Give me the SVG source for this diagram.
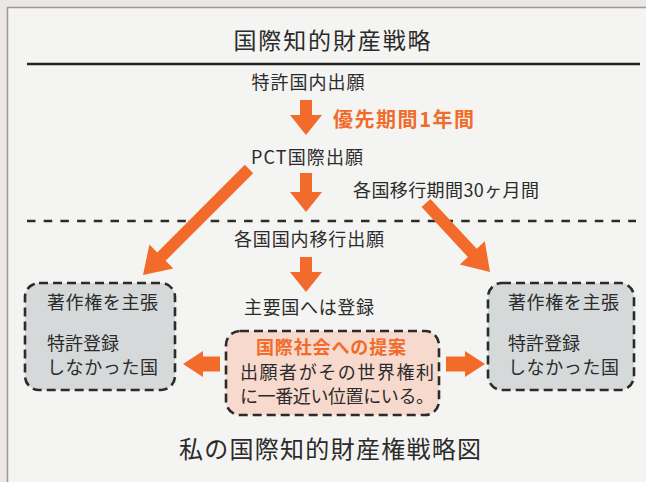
<svg xmlns="http://www.w3.org/2000/svg" width="646" height="482" viewBox="0 0 646 482">
<defs>
<style>
.t{font-family:"Noto Sans CJK JP","Noto Sans",sans-serif;fill:#2b2b2b;font-size:18px}
.big{font-size:23px}
.cap{font-size:24px}
.o{fill:#f26b2b;font-weight:bold}
.o20{font-size:20px}
.arr{fill:#f26b2b}
.box{stroke:#2b2b2b;stroke-width:2.6;stroke-dasharray:9 5}
.gray{fill:#d6d9d9}
.pink{fill:#f7d9cd}
</style>
</defs>
<rect x="0" y="0" width="646" height="482" fill="#ebe7e7"/>
<rect x="7.5" y="7.5" width="700" height="500" fill="#f4f4f2" stroke="#9a9a9a" stroke-width="1.5"/>
<g id="title">
<text class="t big" x="332" y="49" text-anchor="middle" textLength="197" lengthAdjust="spacing">国際知的財産戦略</text>
</g>
<line x1="27" y1="64" x2="640" y2="64" stroke="#222" stroke-width="2.5"/>
<line x1="27" y1="221" x2="636" y2="221" stroke="#2b2b2b" stroke-width="2.5" stroke-dasharray="8.5 8.2"/>
<g id="n1"><text class="t" x="308" y="89" text-anchor="middle" textLength="113" lengthAdjust="spacing">特許国内出願</text></g>
<g id="lbl1"><text class="t o o20" x="333" y="127" textLength="141" lengthAdjust="spacing">優先期間1年間</text></g>
<g id="n2"><text class="t" x="307" y="164" text-anchor="middle" textLength="112" lengthAdjust="spacing">PCT国際出願</text></g>
<g id="lbl2"><text class="t" x="353" y="197" textLength="186" lengthAdjust="spacing">各国移行期間30ヶ月間</text></g>
<g id="n3"><text class="t" x="309" y="246" text-anchor="middle" textLength="150" lengthAdjust="spacing">各国国内移行出願</text></g>
<g id="n4"><text class="t" x="309" y="314" text-anchor="middle" textLength="130" lengthAdjust="spacing">主要国へは登録</text></g>
<g id="leftbox">
<rect class="box gray" x="25" y="283" width="150" height="107" rx="14"/>
<text class="t" x="47" y="309" textLength="111" lengthAdjust="spacing">著作権を主張</text>
<text class="t" x="47" y="350">特許登録</text>
<text class="t" x="47" y="374" textLength="111" lengthAdjust="spacing">しなかった国</text>
</g>
<g id="rightbox">
<rect class="box gray" x="488" y="283" width="146" height="107" rx="14"/>
<text class="t" x="508" y="309" textLength="111" lengthAdjust="spacing">著作権を主張</text>
<text class="t" x="508" y="350">特許登録</text>
<text class="t" x="508" y="374" textLength="111" lengthAdjust="spacing">しなかった国</text>
</g>
<g id="centerbox">
<rect class="box pink" x="226" y="331" width="213" height="84" rx="14"/>
<text class="t o" x="331" y="354" text-anchor="middle" textLength="150" lengthAdjust="spacing">国際社会への提案</text>
<text class="t" x="240" y="379" textLength="194" lengthAdjust="spacing">出願者がその世界権利</text>
<text class="t" x="240" y="403" textLength="194" lengthAdjust="spacing">に一番近い位置にいる。</text>
</g>
<g id="caption"><text class="t cap" x="330" y="458" text-anchor="middle" textLength="302" lengthAdjust="spacing">私の国際知的財産権戦略図</text></g>
<g id="connectors">
<polygon class="arr" points="300,100 312,100 312,115 322,115 306,135 290,115 300,115"/>
<polygon class="arr" points="300,173 312,173 312,192 322,192 306,212 290,192 300,192"/>
<polygon class="arr" points="300,257 312,257 312,272 322,272 306,292 290,272 300,272"/>
<polygon class="arr" points="244.8,164.8 253.2,173.2 165.6,260.8 173.4,268.6 143,275 149.4,244.6 157.2,252.4"/>
<polygon class="arr" points="421.6,207.1 430.4,198.9 476.7,248.8 484.8,241.3 490,272 459.8,264.5 467.9,257"/>
<polygon class="arr" points="220,356.5 220,371.5 203,371.5 203,377 183,364 203,351 203,356.5"/>
<polygon class="arr" points="446,356.5 446,371.5 465,371.5 465,377 485,364 465,351 465,356.5"/>
</g>
</svg>
